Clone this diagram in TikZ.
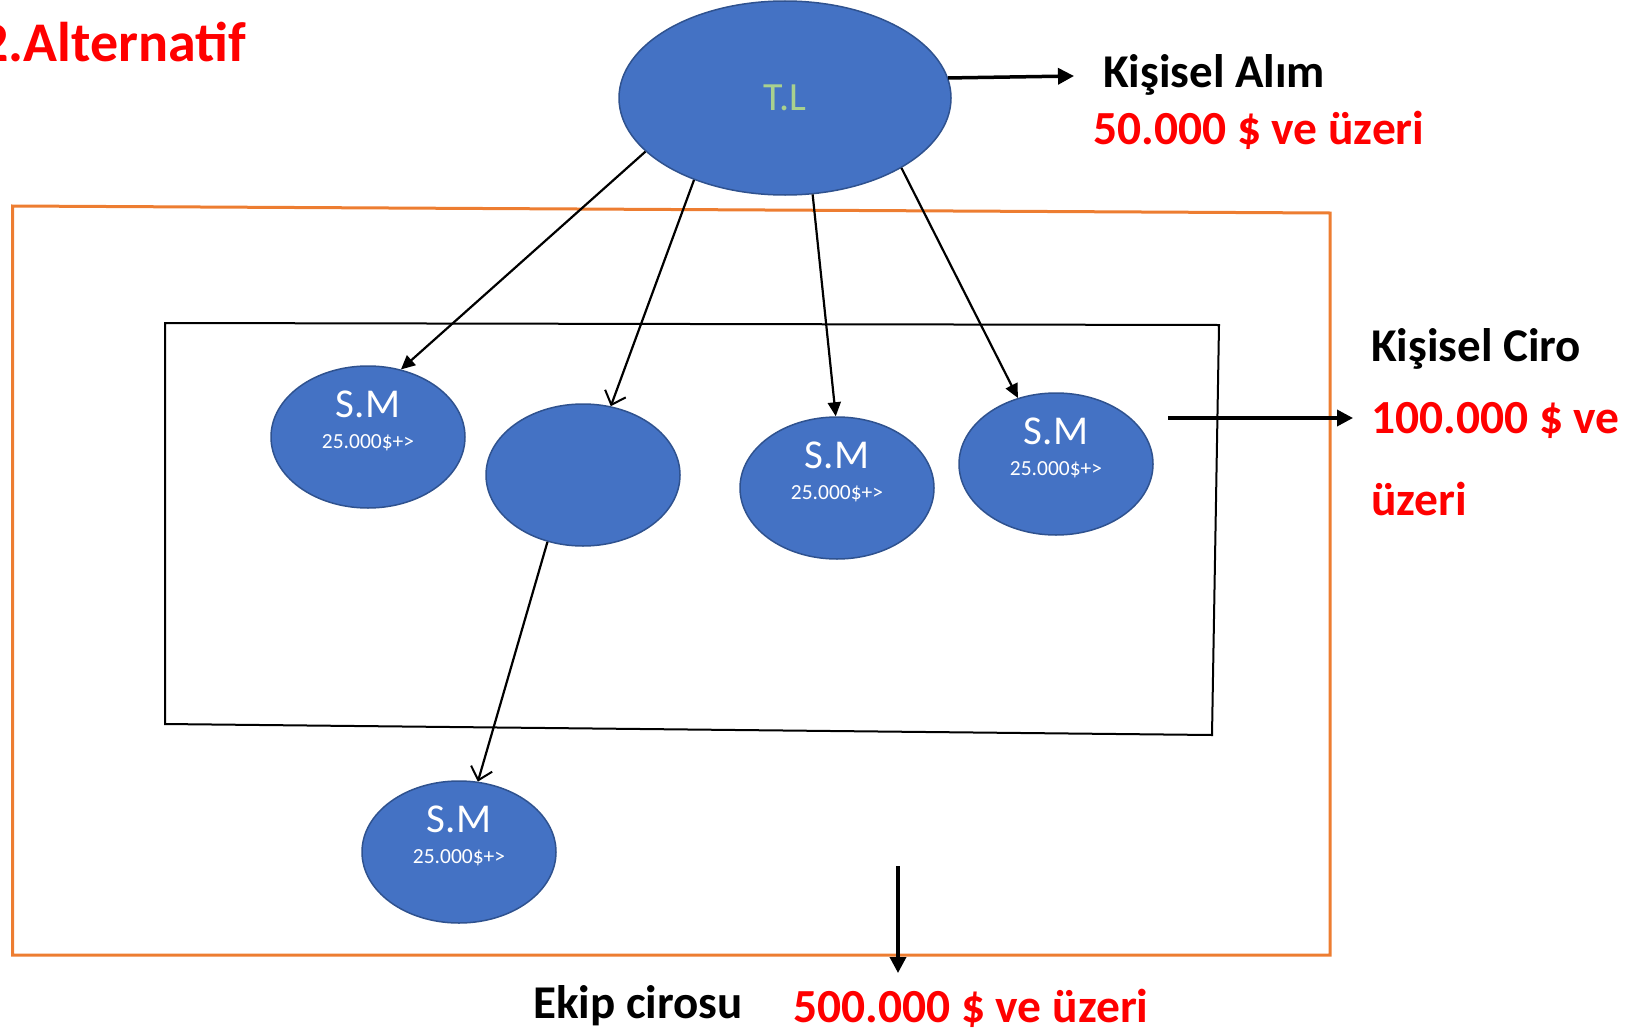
\documentclass[tikz,border=0pt]{standalone}
\usepackage{fontspec}
\setmainfont{Carlito}
\usetikzlibrary{arrows.meta,shapes.geometric,calc}
\definecolor{ellfill}{HTML}{4472C4}
\definecolor{elldraw}{HTML}{2F528F}
\definecolor{tlgreen}{HTML}{A9D18E}
\definecolor{frameorange}{HTML}{ED7D31}
\definecolor{redtxt}{HTML}{FF0000}
\begin{document}
\begin{tikzpicture}[x=1pt,y=-1pt,
  blob/.style={ellipse, draw=elldraw, line width=1.5pt, fill=ellfill, inner sep=0pt},
  smell/.style={blob, minimum width=194pt, minimum height=142pt},
  smname/.style={anchor=base, inner sep=0pt, text=white, font=\fontsize{41}{44}\selectfont, yshift=20pt},
  smval/.style={anchor=base, inner sep=0pt, text=white, font=\fontsize{21.5}{24}\selectfont, yshift=-11.5pt},
  bigblack/.style={anchor=base west, inner sep=0pt, font=\bfseries\fontsize{47}{50}\selectfont},
  bigred/.style={bigblack, text=redtxt, font=\bfseries\fontsize{47.5}{50}\selectfont},
  thinarrow/.style={line width=2.2pt, -{Triangle[length=14pt,width=13pt]}},
  openarrow/.style={line width=2.2pt, -{Straight Barb[length=12pt,width=22pt,line width=2pt]}},
  thickarrow/.style={line width=3.5pt, -{Triangle[length=16pt,width=16pt]}}]
\useasboundingbox (0,0) rectangle (1632,1033);
\clip (0,0) rectangle (1632,1033);

% title
\node[bigred, font=\bfseries\fontsize{56}{60}\selectfont] (title) at (-20,62) {2.Alternatif};

% frames
\draw[frameorange, line width=3pt] (12.5,206) -- (1330,213) -- (1330,955) -- (12.5,955) -- cycle;
\draw[black, line width=2pt] (165,323) -- (1219,325) -- (1212,735) -- (165,724) -- cycle;

% ellipses
\node[blob, minimum width=332pt, minimum height=194pt, text=tlgreen, font=\fontsize{40}{44}\selectfont] (tl) at (785,98) {T.L};
\node[smell] (sm1) at (368,437) {};
\node[smell] (emp) at (583,475) {};
\node[smell] (sm3) at (837,488) {};
\node[smell] (sm4) at (1056,464) {};
\node[smell] (sm5) at (459,852) {};

\foreach \n in {sm1,sm3,sm4,sm5}{
  \node[smname] (\n name) at (\n.center) {S.M};
  \node[smval] (\n val) at (\n.center) {25.000\$+>};
}

% connectors
\draw[thinarrow] (tl.201) -- (sm1.64);
\draw[openarrow] (tl.222) -- (emp.68);
\draw[thinarrow] (tl.286.6) -- (sm3.91);
\draw[thinarrow] (tl.329.3) -- (sm4.120);
\draw[openarrow] (emp.242.5) -- (sm5.75.6);

% free arrows
\coordinate (a1) at (1074,76);
\draw[thickarrow] (tl.7.5) -- (a1);
\coordinate (b0) at (1168,418);
\coordinate (b1) at (1353,418);
\draw[thickarrow] (b0) -- (b1);
\coordinate (c0) at (898,866);
\coordinate (c1) at (898,973);
\draw[thickarrow] (c0) -- (c1);

% texts
\node[bigblack] (alim) at (1103,87.5) {Kişisel Alım};
\node[bigred] (alimv) at (1093,144) {50.000 \$ ve üzeri};
\node[bigblack] (ciro) at (1371,361) {Kişisel Ciro};
\node[bigred] (cirov) at (1371,433) {100.000 \$ ve};
\node[bigred] (cirov2) at (1371,515) {üzeri};
\node[bigblack] (ekip) at (533,1018) {Ekip cirosu};
\node[bigred] (ekipv) at (793,1022) {500.000 \$ ve üzeri};
\end{tikzpicture}
\end{document}
